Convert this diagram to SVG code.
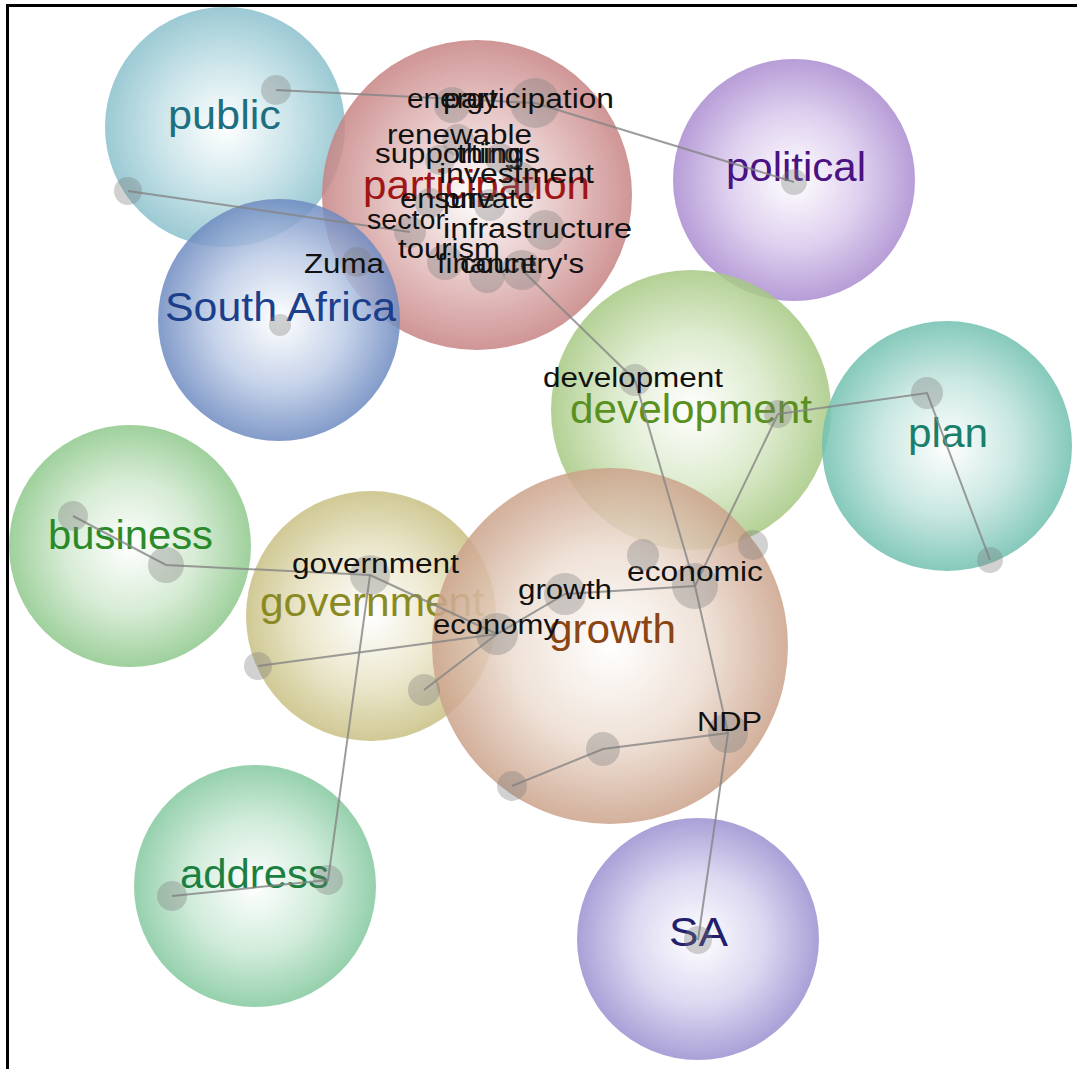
<svg xmlns="http://www.w3.org/2000/svg" width="1077" height="1069" viewBox="0 0 1077 1069">
<defs>
<radialGradient id="gPub" cx="50%" cy="50%" r="50%"><stop offset="0" stop-color="#ffffff"/><stop offset="0.55" stop-color="#c2e0e6"/><stop offset="1" stop-color="#8ac0cc"/></radialGradient>
<radialGradient id="gPar" cx="50%" cy="50%" r="50%"><stop offset="0" stop-color="#ffffff"/><stop offset="0.55" stop-color="#e3bcbc"/><stop offset="1" stop-color="#c78383"/></radialGradient>
<radialGradient id="gPol" cx="50%" cy="50%" r="50%"><stop offset="0" stop-color="#ffffff"/><stop offset="0.55" stop-color="#d9c8ec"/><stop offset="1" stop-color="#aa8cd0"/></radialGradient>
<radialGradient id="gSAf" cx="50%" cy="50%" r="50%"><stop offset="0" stop-color="#ffffff"/><stop offset="0.55" stop-color="#bccbe6"/><stop offset="1" stop-color="#6d8ac0"/></radialGradient>
<radialGradient id="gDev" cx="50%" cy="50%" r="50%"><stop offset="0" stop-color="#ffffff"/><stop offset="0.55" stop-color="#d8e8c6"/><stop offset="1" stop-color="#a6c882"/></radialGradient>
<radialGradient id="gPlan" cx="50%" cy="50%" r="50%"><stop offset="0" stop-color="#ffffff"/><stop offset="0.55" stop-color="#bfe3dc"/><stop offset="1" stop-color="#70c0b0"/></radialGradient>
<radialGradient id="gBus" cx="50%" cy="50%" r="50%"><stop offset="0" stop-color="#ffffff"/><stop offset="0.55" stop-color="#cfe8cd"/><stop offset="1" stop-color="#8ec88b"/></radialGradient>
<radialGradient id="gGov" cx="50%" cy="50%" r="50%"><stop offset="0" stop-color="#ffffff"/><stop offset="0.55" stop-color="#e8e3c4"/><stop offset="1" stop-color="#c8bf82"/></radialGradient>
<radialGradient id="gGro" cx="50%" cy="50%" r="50%"><stop offset="0" stop-color="#ffffff"/><stop offset="0.55" stop-color="#ecdcd0"/><stop offset="1" stop-color="#cba28a"/></radialGradient>
<radialGradient id="gAdd" cx="50%" cy="50%" r="50%"><stop offset="0" stop-color="#ffffff"/><stop offset="0.55" stop-color="#c8e8d4"/><stop offset="1" stop-color="#83c89e"/></radialGradient>
<radialGradient id="gSA" cx="50%" cy="50%" r="50%"><stop offset="0" stop-color="#ffffff"/><stop offset="0.55" stop-color="#d4d0ee"/><stop offset="1" stop-color="#9a90d0"/></radialGradient>
</defs>
<style>
.bub{opacity:0.85}
.big{font-family:"Liberation Sans",Arial,sans-serif;font-size:40px}
.sm{font-family:"Liberation Sans",Arial,sans-serif;font-size:27px;fill:#111111}
.dot{fill:#7a7a7a;fill-opacity:0.35}
.edge{stroke:#858585;stroke-width:2;stroke-opacity:0.8;fill:none}
</style>
<rect x="0" y="0" width="1077" height="1069" fill="#ffffff"/>
<g id="frame" stroke="#000000" stroke-width="3">
<line x1="6" y1="5.5" x2="1077" y2="5.5"/>
<line x1="7.5" y1="4" x2="7.5" y2="1069"/>
</g>
<g id="clusters">
<g id="c-public"><circle class="bub" cx="225" cy="127" r="120" fill="url(#gPub)"/><text class="big" x="168" y="129" textLength="113" lengthAdjust="spacingAndGlyphs" fill="#1e6f80">public</text></g>
<g id="c-participation"><circle class="bub" cx="477" cy="195" r="155" fill="url(#gPar)"/><text class="big" x="363" y="199" textLength="227" lengthAdjust="spacingAndGlyphs" fill="#a01515">participation</text></g>
<g id="c-political"><circle class="bub" cx="794" cy="180" r="121" fill="url(#gPol)"/><text class="big" x="726" y="181" textLength="140" lengthAdjust="spacingAndGlyphs" fill="#4a1282">political</text></g>
<g id="c-southafrica"><circle class="bub" cx="279" cy="320" r="121" fill="url(#gSAf)"/><text class="big" x="165" y="321" textLength="231" lengthAdjust="spacingAndGlyphs" fill="#1b3f8a">South Africa</text></g>
<g id="c-development"><circle class="bub" cx="691" cy="410" r="140" fill="url(#gDev)"/><text class="big" x="570" y="423" textLength="242" lengthAdjust="spacingAndGlyphs" fill="#5a9020">development</text></g>
<g id="c-plan"><circle class="bub" cx="947" cy="446" r="125" fill="url(#gPlan)"/><text class="big" x="908" y="447" textLength="80" lengthAdjust="spacingAndGlyphs" fill="#1a806b">plan</text></g>
<g id="c-business"><circle class="bub" cx="130" cy="546" r="121" fill="url(#gBus)"/><text class="big" x="48" y="549" textLength="165" lengthAdjust="spacingAndGlyphs" fill="#2a8a2a">business</text></g>
<g id="c-government"><circle class="bub" cx="371" cy="616" r="125" fill="url(#gGov)"/><text class="big" x="260" y="616" textLength="224" lengthAdjust="spacingAndGlyphs" fill="#8a8a22">government</text></g>
<g id="c-growth"><circle class="bub" cx="610" cy="646" r="178" fill="url(#gGro)"/><text class="big" x="549" y="643" textLength="127" lengthAdjust="spacingAndGlyphs" fill="#8a4512">growth</text></g>
<g id="c-address"><circle class="bub" cx="255" cy="886" r="121" fill="url(#gAdd)"/><text class="big" x="180" y="888" textLength="149" lengthAdjust="spacingAndGlyphs" fill="#1a8040">address</text></g>
<g id="c-SA"><circle class="bub" cx="698" cy="939" r="121" fill="url(#gSA)"/><text class="big" x="669" y="946" textLength="59" lengthAdjust="spacingAndGlyphs" fill="#22206c">SA</text></g>
</g>
<g id="connectors">
<polyline class="edge" points="276,90 535,103 794,182"/>
<line class="edge" x1="128" y1="191" x2="410" y2="232"/>
<line class="edge" x1="522" y1="270" x2="635" y2="380"/>
<line class="edge" x1="635" y1="380" x2="695" y2="586"/>
<line class="edge" x1="778" y1="414" x2="695" y2="586"/>
<polyline class="edge" points="778,414 927,393 990,560"/>
<line class="edge" x1="695" y1="586" x2="565" y2="594"/>
<polyline class="edge" points="695,586 728,733 698,940"/>
<polyline class="edge" points="728,733 603,749 512,786"/>
<line class="edge" x1="565" y1="594" x2="497" y2="634"/>
<line class="edge" x1="497" y1="634" x2="258" y2="666"/>
<line class="edge" x1="497" y1="634" x2="424" y2="690"/>
<line class="edge" x1="370" y1="575" x2="497" y2="634"/>
<polyline class="edge" points="370,575 328,880 172,896"/>
<polyline class="edge" points="73,516 166,565 370,575"/>
</g>
<g id="nodes">
<g id="n-public"><circle class="dot" cx="276" cy="90" r="15"/></g>
<g id="n-public2"><circle class="dot" cx="128" cy="191" r="14"/></g>
<g id="n-political"><circle class="dot" cx="794" cy="182" r="13"/></g>
<g id="n-southafrica"><circle class="dot" cx="280" cy="325" r="11"/></g>
<g id="n-zuma"><circle class="dot" cx="357" cy="262" r="15"/><text class="sm" x="304" y="273" textLength="80" lengthAdjust="spacingAndGlyphs">Zuma</text></g>
<g id="n-energy"><circle class="dot" cx="452" cy="105" r="18"/><text class="sm" x="407" y="108" textLength="91" lengthAdjust="spacingAndGlyphs">energy</text></g>
<g id="n-participation"><circle class="dot" cx="535" cy="103" r="25"/><text class="sm" x="443" y="108" textLength="171" lengthAdjust="spacingAndGlyphs">participation</text></g>
<g id="n-renewable"><circle class="dot" cx="458" cy="140" r="16"/><text class="sm" x="387" y="144" textLength="145" lengthAdjust="spacingAndGlyphs">renewable</text></g>
<g id="n-supporting"><circle class="dot" cx="440" cy="160" r="15"/><text class="sm" x="375" y="163" textLength="146" lengthAdjust="spacingAndGlyphs">supporting</text></g>
<g id="n-things"><circle class="dot" cx="500" cy="158" r="15"/><text class="sm" x="457" y="163" textLength="83" lengthAdjust="spacingAndGlyphs">things</text></g>
<g id="n-investment"><circle class="dot" cx="520" cy="180" r="18"/><text class="sm" x="439" y="183" textLength="155" lengthAdjust="spacingAndGlyphs">investment</text></g>
<g id="n-ensure"><circle class="dot" cx="430" cy="203" r="15"/><text class="sm" x="400" y="208" textLength="95" lengthAdjust="spacingAndGlyphs">ensure</text></g>
<g id="n-private"><circle class="dot" cx="490" cy="205" r="16"/><text class="sm" x="443" y="208" textLength="91" lengthAdjust="spacingAndGlyphs">private</text></g>
<g id="n-sector"><circle class="dot" cx="410" cy="232" r="16"/><text class="sm" x="367" y="229" textLength="78" lengthAdjust="spacingAndGlyphs">sector</text></g>
<g id="n-infrastructure"><circle class="dot" cx="545" cy="230" r="20"/><text class="sm" x="443" y="238" textLength="189" lengthAdjust="spacingAndGlyphs">infrastructure</text></g>
<g id="n-tourism"><circle class="dot" cx="445" cy="262" r="18"/><text class="sm" x="398" y="258" textLength="102" lengthAdjust="spacingAndGlyphs">tourism</text></g>
<g id="n-finance"><circle class="dot" cx="487" cy="275" r="18"/><text class="sm" x="437" y="273" textLength="100" lengthAdjust="spacingAndGlyphs">finance</text></g>
<g id="n-countrys"><circle class="dot" cx="522" cy="270" r="20"/><text class="sm" x="460" y="273" textLength="124" lengthAdjust="spacingAndGlyphs">country's</text></g>
<g id="n-development"><circle class="dot" cx="635" cy="380" r="16"/><text class="sm" x="543" y="387" textLength="180" lengthAdjust="spacingAndGlyphs">development</text></g>
<g id="n-development2"><circle class="dot" cx="778" cy="414" r="14"/></g>
<g id="n-plan"><circle class="dot" cx="927" cy="393" r="16"/></g>
<g id="n-plan2"><circle class="dot" cx="990" cy="560" r="13"/></g>
<g id="n-business"><circle class="dot" cx="73" cy="516" r="15"/></g>
<g id="n-business2"><circle class="dot" cx="166" cy="565" r="18"/></g>
<g id="n-government"><circle class="dot" cx="370" cy="575" r="20"/><text class="sm" x="292" y="573" textLength="167" lengthAdjust="spacingAndGlyphs">government</text></g>
<g id="n-gov2"><circle class="dot" cx="258" cy="666" r="14"/></g>
<g id="n-gov3"><circle class="dot" cx="424" cy="690" r="16"/></g>
<g id="n-growth"><circle class="dot" cx="565" cy="594" r="21"/><text class="sm" x="518" y="599" textLength="94" lengthAdjust="spacingAndGlyphs">growth</text></g>
<g id="n-economy"><circle class="dot" cx="497" cy="634" r="21"/><text class="sm" x="433" y="634" textLength="126" lengthAdjust="spacingAndGlyphs">economy</text></g>
<g id="n-economic"><circle class="dot" cx="695" cy="586" r="23"/><text class="sm" x="627" y="581" textLength="136" lengthAdjust="spacingAndGlyphs">economic</text></g>
<g id="n-gro4"><circle class="dot" cx="643" cy="555" r="16"/></g>
<g id="n-gro5"><circle class="dot" cx="753" cy="545" r="15"/></g>
<g id="n-NDP"><circle class="dot" cx="728" cy="733" r="20"/><text class="sm" x="697" y="731" textLength="65" lengthAdjust="spacingAndGlyphs">NDP</text></g>
<g id="n-gro6"><circle class="dot" cx="603" cy="749" r="17"/></g>
<g id="n-gro7"><circle class="dot" cx="512" cy="786" r="15"/></g>
<g id="n-address"><circle class="dot" cx="172" cy="896" r="15"/></g>
<g id="n-address2"><circle class="dot" cx="328" cy="880" r="15"/></g>
<g id="n-SA"><circle class="dot" cx="698" cy="940" r="14"/></g>
</g>
</svg>
